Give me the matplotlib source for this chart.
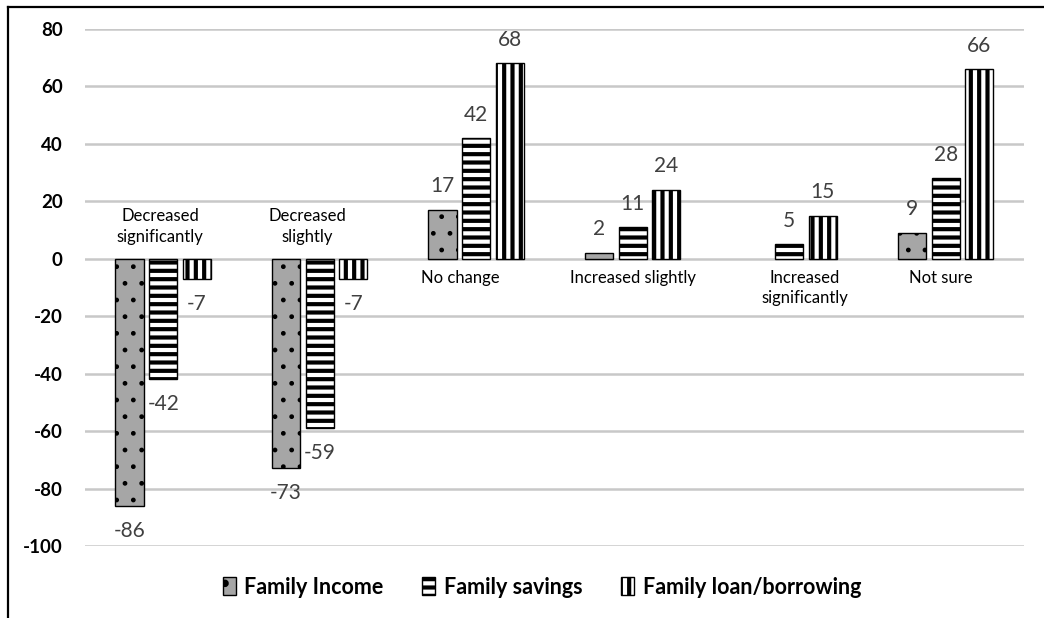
import numpy as np
import matplotlib
matplotlib.use('Agg')
import matplotlib.pyplot as plt
from matplotlib.lines import Line2D

# survey answers, % change per group
categories = ['Decreased\nsignificantly', 'Decreased\nslightly', 'No change',
              'Increased slightly', 'Increased\nsignificantly', 'Not sure']
family_income = [-86, -73, 17, 2, 0, 9]
family_savings = [-42, -59, 42, 11, 5, 28]
family_loan = [-7, -7, 68, 24, 15, 66]
series_names = ['Family Income', 'Family savings', 'Family loan/borrowing']
yticks = [-100, -80, -60, -40, -20, 0, 20, 40, 60, 80]

plt.rcParams['font.family'] = ['Lato', 'DejaVu Sans']

fig = plt.figure(figsize=(10.44, 6.18), dpi=100)
ax = fig.add_axes([0.0814, 0.1165, 0.8994, 0.8366])

x = np.arange(len(categories))
width = 0.18
offsets = [-0.215, 0.0, 0.215]
styles = [
  dict(facecolor='#a6a6a6', hatch='.', hlw=1.0),
  dict(facecolor='white', hatch='--', hlw=3.0),
  dict(facecolor='white', hatch='||', hlw=3.0),
]

handles = []
for vals, off, st, name in zip([family_income, family_savings, family_loan],
                               offsets, styles, series_names):
  vals = np.array(vals)
  idx = np.nonzero(vals)[0]
  plt.rcParams['hatch.linewidth'] = st['hlw']
  bars = ax.bar(x[idx] + off, vals[idx], width, facecolor=st['facecolor'],
                edgecolor='black', linewidth=1.0, hatch=st['hatch'],
                label=name, zorder=3)
  for b in bars:
    if hasattr(b, 'set_hatch_linewidth'):
      b.set_hatch_linewidth(st['hlw'])
  handles.append(bars)
  for i in idx:
    v = vals[i]
    ax.annotate(str(v), (x[i] + off, v), xytext=(0, 17 if v > 0 else -18),
                textcoords='offset points', ha='center', va='center',
                fontsize=15, color='#404040')

# category names sit beside the zero line
label_dx = [-0.02, -0.08, -0.10, 0.0, 0.10, -0.03]
for i, cat in enumerate(categories):
  below = family_income[i] >= 0
  ax.annotate(cat, (x[i] + label_dx[i], 0), xytext=(0, -8 if below else 10),
              textcoords='offset points', ha='center',
              va='top' if below else 'bottom', fontsize=12,
              linespacing=1.35, color='black')

ax.set_xlim(-0.5, len(categories) - 0.5)
ax.set_ylim(-100, 80)
ax.set_yticks(yticks)
ax.set_yticklabels([str(t) for t in yticks], fontsize=13.5, fontweight='bold')
ax.set_xticks([])
ax.tick_params(axis='y', length=0, pad=16)
ax.grid(axis='y', color='#c8c8c8', linewidth=1.8, zorder=0)
ax.set_axisbelow(True)
for s in ax.spines.values():
  s.set_visible(False)

leg = fig.legend(handles=handles, labels=series_names, loc='center',
                 bbox_to_anchor=(0.519, 0.05), ncol=3, frameon=False,
                 handlelength=0.6, handleheight=0.9, handletextpad=0.4,
                 columnspacing=1.8, prop={'size': 15.5, 'weight': 'bold'})

# outer frame (left and top edges)
fig.add_artist(Line2D([0.0077, 0.0077], [0.0, 0.9887], color='black', linewidth=1.6))
fig.add_artist(Line2D([0.0077, 1.0], [0.9887, 0.9887], color='black', linewidth=1.6))

fig.savefig('out.png', dpi=100)
